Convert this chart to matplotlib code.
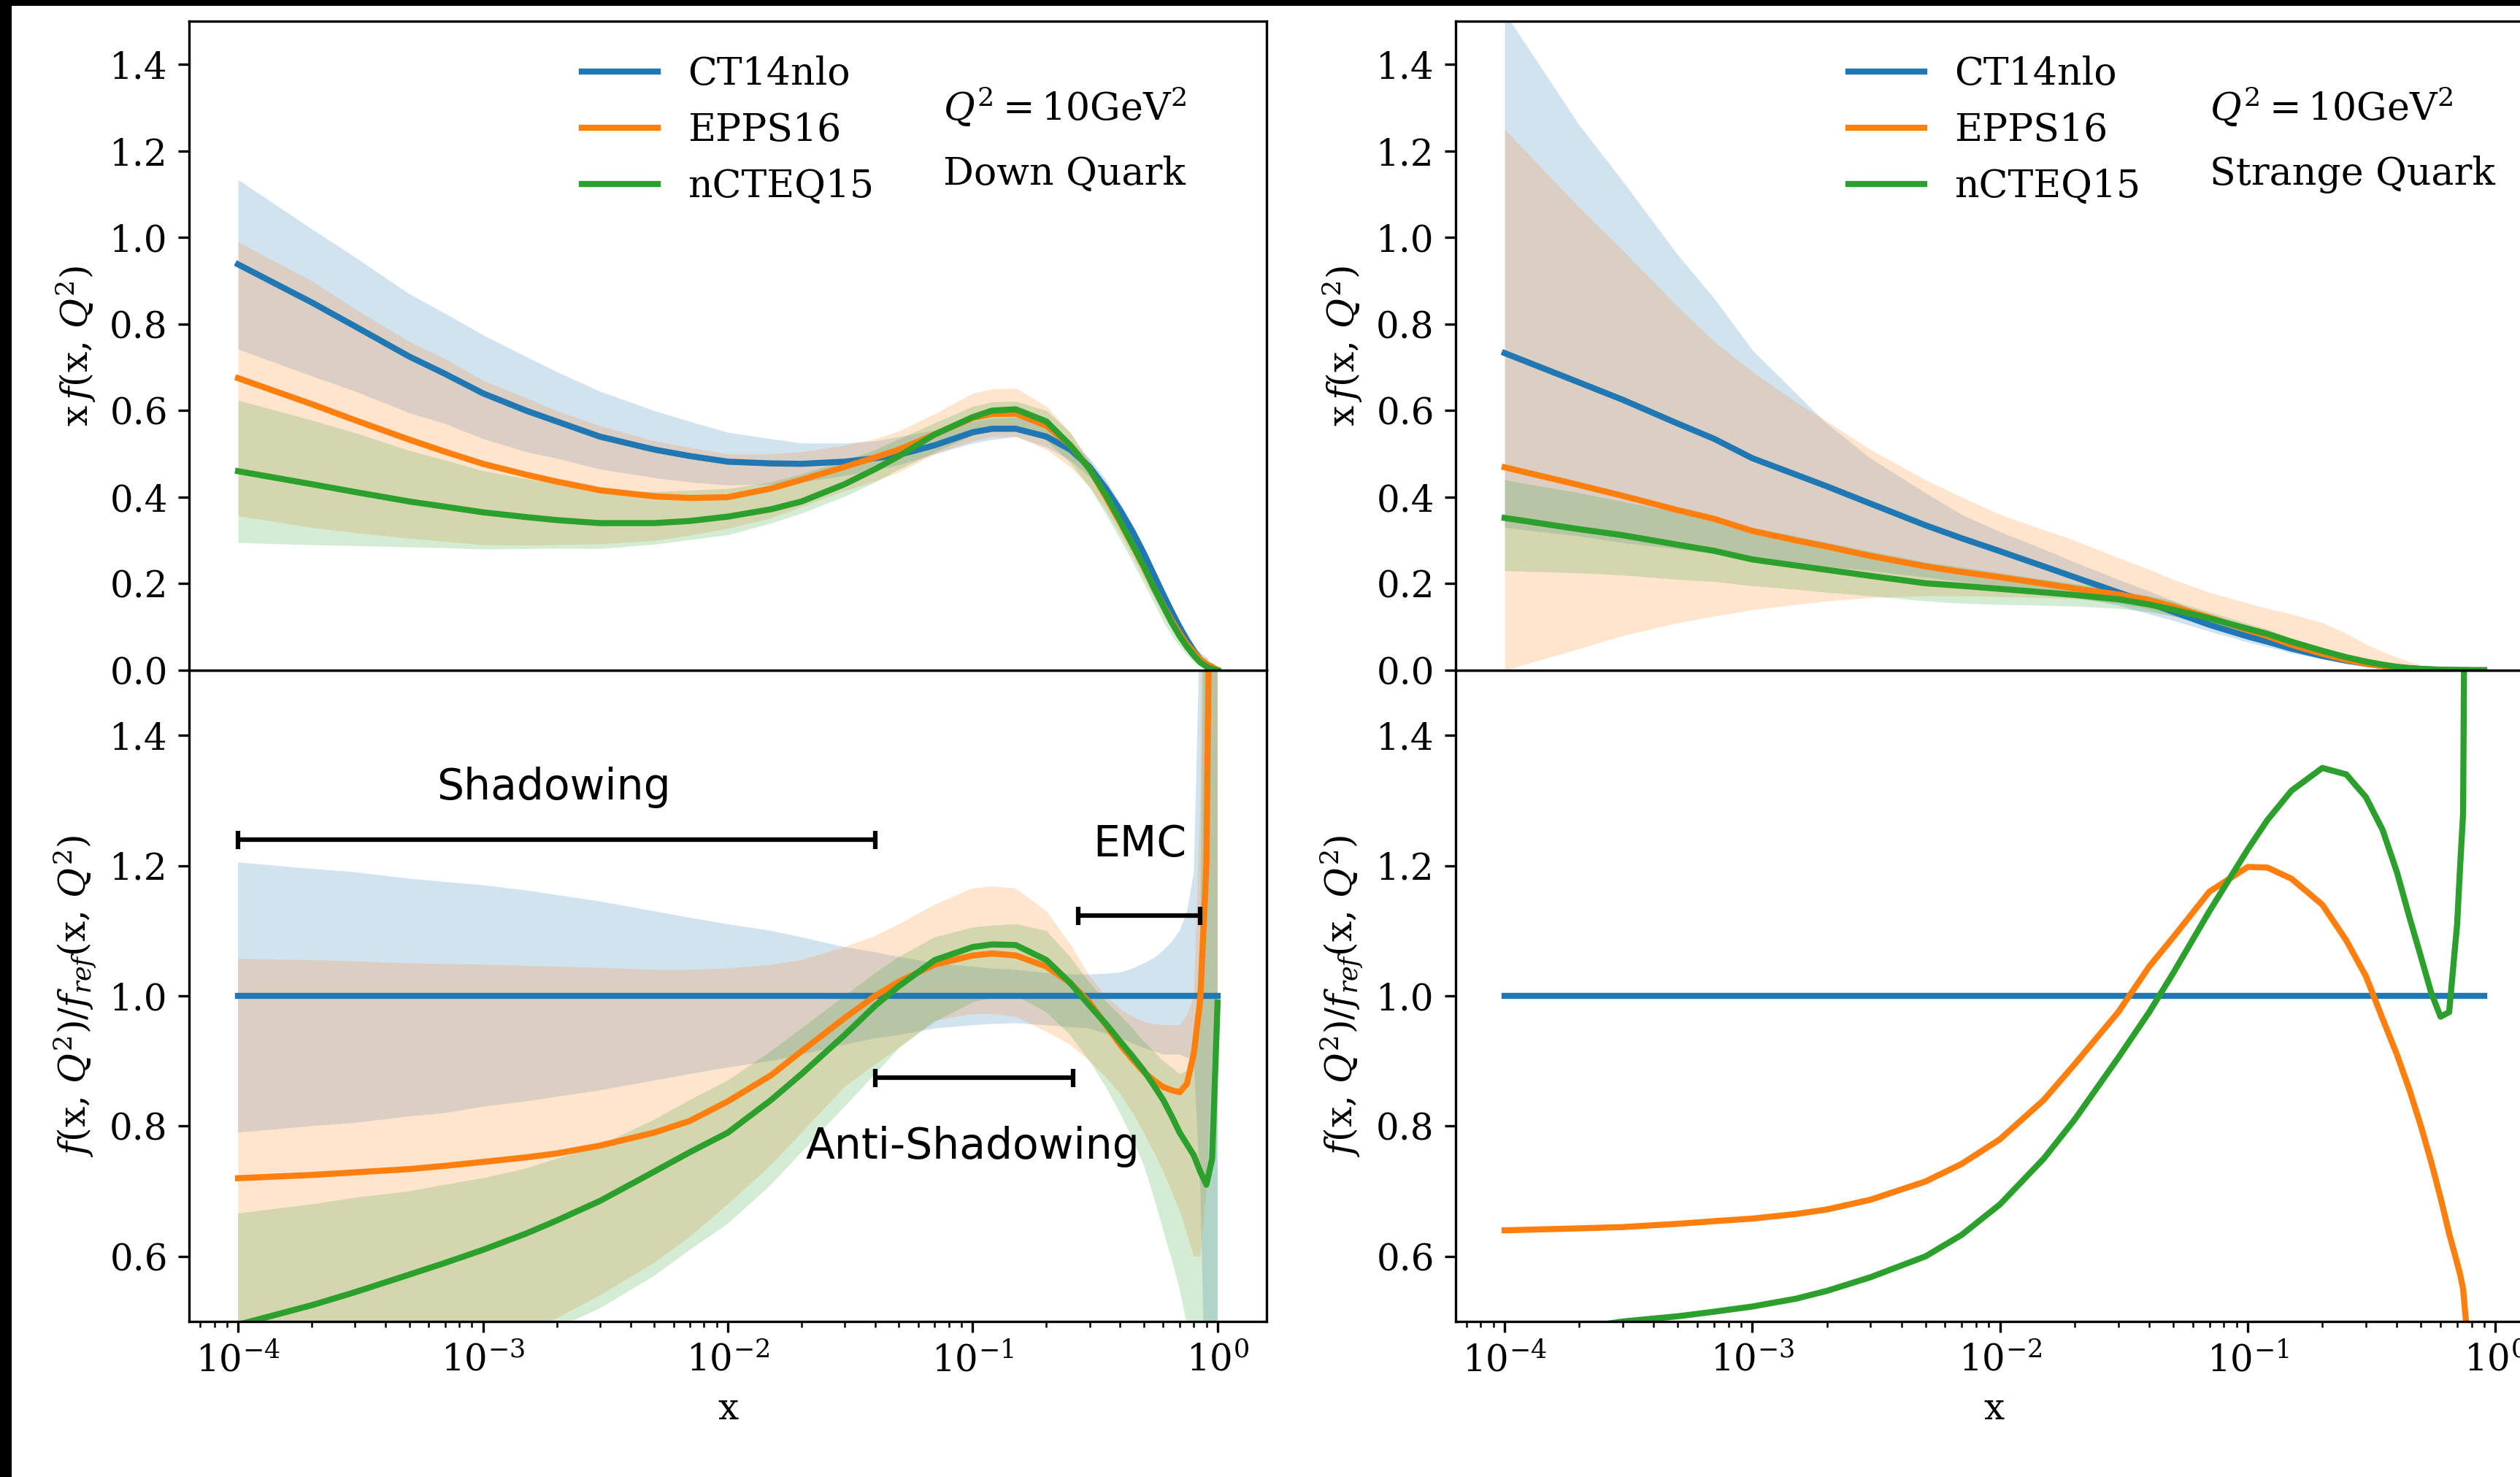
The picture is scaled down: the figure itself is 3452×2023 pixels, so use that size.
import matplotlib
matplotlib.use('Agg')
import matplotlib.pyplot as plt
from matplotlib.patches import Rectangle

# ---------------- data ----------------
labels = ['CT14nlo', 'EPPS16', 'nCTEQ15']

# down quark, x grid
x_down = [1e-4, 2e-4, 3e-4, 5e-4, 7e-4,
          1e-3, 1.5e-3, 2e-3, 3e-3, 5e-3, 7e-3,
          1e-2, 1.5e-2, 2e-2, 3e-2, 4e-2, 5e-2, 7e-2,
          0.1, 0.12, 0.15, 0.2, 0.25, 0.3, 0.35, 0.4, 0.45, 0.5, 0.55, 0.6, 0.65, 0.7, 0.75, 0.8, 0.85,
          0.9, 0.95, 1.0]

# x f(x, Q^2), down quark
ct14_d = [0.938, 0.85, 0.795, 0.725, 0.685,
          0.64, 0.60, 0.575, 0.54, 0.51, 0.495,
          0.482, 0.478, 0.477, 0.482, 0.49, 0.498, 0.52,
          0.55, 0.558, 0.558, 0.54, 0.51, 0.47, 0.42, 0.37, 0.32, 0.27, 0.22, 0.175, 0.135, 0.10, 0.07,
          0.045, 0.025, 0.012, 0.004, 0.0]
ct14_d_hi = [1.134, 1.02, 0.955, 0.87, 0.825,
             0.775, 0.725, 0.69, 0.645, 0.60, 0.575,
             0.55, 0.535, 0.525, 0.525, 0.53, 0.54, 0.555,
             0.575, 0.582, 0.585, 0.565, 0.53, 0.49, 0.44, 0.385, 0.335, 0.285, 0.235, 0.19, 0.148, 0.11,
             0.08, 0.052, 0.04, 0.03, 0.012, 0.0]
ct14_d_lo = [0.742, 0.68, 0.645, 0.595, 0.57,
             0.535, 0.505, 0.49, 0.465, 0.445, 0.435,
             0.428, 0.43, 0.435, 0.45, 0.462, 0.475, 0.50,
             0.525, 0.533, 0.54, 0.516, 0.485, 0.447, 0.397, 0.346, 0.296, 0.248, 0.2, 0.16, 0.123, 0.091,
             0.064, 0.04, 0.018, 0.004, 0.001, 0.0]
epps_d = [0.675, 0.615, 0.578, 0.533, 0.505,
          0.477, 0.452, 0.436, 0.416, 0.402, 0.398,
          0.40, 0.42, 0.44, 0.47, 0.492, 0.51, 0.545,
          0.583, 0.592, 0.593, 0.565, 0.52, 0.465, 0.40, 0.342, 0.288, 0.238, 0.19, 0.15, 0.115, 0.085,
          0.06, 0.041, 0.025, 0.014, 0.008, 0.0]
epps_d_hi = [0.99, 0.90, 0.835, 0.76, 0.72,
             0.67, 0.63, 0.60, 0.565, 0.53, 0.515,
             0.50, 0.50, 0.505, 0.52, 0.535, 0.553, 0.593,
             0.64, 0.65, 0.652, 0.61, 0.55, 0.485, 0.42, 0.363, 0.31, 0.26, 0.21, 0.167, 0.129, 0.096,
             0.068, 0.045, 0.032, 0.03, 0.012, 0.0]
epps_d_lo = [0.357, 0.33, 0.318, 0.305, 0.298,
             0.29, 0.289, 0.29, 0.292, 0.30, 0.312,
             0.328, 0.352, 0.378, 0.415, 0.438, 0.458, 0.50,
             0.53, 0.54, 0.54, 0.51, 0.47, 0.423, 0.37, 0.315, 0.262, 0.213, 0.168, 0.128, 0.095, 0.067,
             0.045, 0.027, 0.015, 0.008, 0.004, 0.0]
ncteq_d = [0.46, 0.43, 0.412, 0.39, 0.378,
           0.365, 0.354, 0.347, 0.34, 0.34, 0.345,
           0.355, 0.372, 0.39, 0.43, 0.465, 0.495, 0.545,
           0.585, 0.6, 0.603, 0.575, 0.52, 0.465, 0.405, 0.345, 0.29, 0.24, 0.19, 0.148, 0.11, 0.079,
           0.054, 0.034, 0.018, 0.0085, 0.003, 0.0]
ncteq_d_hi = [0.624, 0.578, 0.549, 0.508, 0.486,
              0.461, 0.443, 0.431, 0.416, 0.413, 0.416,
              0.42, 0.435, 0.454, 0.485, 0.51, 0.535, 0.572,
              0.61, 0.62, 0.622, 0.60, 0.55, 0.48, 0.42, 0.36, 0.305, 0.25, 0.2, 0.158, 0.12, 0.088,
              0.062, 0.04, 0.028, 0.024, 0.012, 0.0]
ncteq_d_lo = [0.295, 0.29, 0.288, 0.285, 0.283,
              0.28, 0.281, 0.282, 0.281, 0.291, 0.302,
              0.313, 0.34, 0.363, 0.402, 0.435, 0.465, 0.504,
              0.543, 0.555, 0.56, 0.531, 0.48, 0.423, 0.36, 0.303, 0.25, 0.2, 0.155, 0.112, 0.08, 0.055,
              0.035, 0.02, 0.01, 0.004, 0.001, 0.0]

# ratio to CT14nlo, down quark
ct14_rd = [1.0] * 38
ct14_rd_hi = [1.205, 1.195, 1.19, 1.18, 1.175,
              1.17, 1.162, 1.155, 1.145, 1.13, 1.12,
              1.11, 1.10, 1.09, 1.075, 1.067, 1.06, 1.05,
              1.045, 1.042, 1.04, 1.035, 1.033, 1.033, 1.034, 1.036, 1.042, 1.05, 1.058, 1.07, 1.083, 1.10,
              1.13, 1.19, 1.6, 2.5, 3.0, 3.0]
ct14_rd_lo = [0.79, 0.80, 0.805, 0.815, 0.82,
              0.83, 0.838, 0.845, 0.855, 0.87, 0.88,
              0.89, 0.90, 0.91, 0.925, 0.935, 0.94, 0.95,
              0.955, 0.957, 0.958, 0.955, 0.952, 0.95, 0.942, 0.935, 0.927, 0.92, 0.915, 0.91, 0.91, 0.91,
              0.905, 0.90, 0.7, 0.3, 0.2, 0.2]
epps_rd = [0.720, 0.725, 0.729, 0.734, 0.739,
           0.745, 0.752, 0.758, 0.770, 0.790, 0.808,
           0.838, 0.878, 0.915, 0.966, 1.0, 1.022, 1.048,
           1.062, 1.065, 1.062, 1.045, 1.02, 0.990, 0.955, 0.925, 0.902, 0.883, 0.870, 0.860, 0.855, 0.852,
           0.865, 0.912, 0.995, 1.2, 2.0, 3.0]
epps_rd_hi = [1.057, 1.055, 1.053, 1.05, 1.049,
              1.048, 1.046, 1.045, 1.043, 1.04, 1.04,
              1.042, 1.048, 1.055, 1.075, 1.092, 1.11, 1.14,
              1.165, 1.168, 1.165, 1.13, 1.08, 1.03, 1.0, 0.98, 0.968, 0.96, 0.957, 0.955, 0.955, 0.955,
              0.97, 1.0, 1.3, 2.5, 3.0, 3.0]
epps_rd_lo = [0.38, 0.39, 0.40, 0.42, 0.435,
              0.455, 0.482, 0.505, 0.54, 0.59, 0.63,
              0.68, 0.74, 0.79, 0.86, 0.895, 0.92, 0.962,
              0.972, 0.972, 0.968, 0.945, 0.925, 0.90, 0.875, 0.85, 0.82, 0.79, 0.76, 0.73, 0.70, 0.67,
              0.635, 0.60, 0.6, 0.7, 0.9, 1.0]
ncteq_rd = [0.495, 0.525, 0.545, 0.572, 0.59,
            0.61, 0.635, 0.655, 0.685, 0.73, 0.76,
            0.79, 0.84, 0.88, 0.94, 0.985, 1.015, 1.055,
            1.075, 1.079, 1.078, 1.055, 1.02, 0.985, 0.957, 0.93, 0.907, 0.885, 0.862, 0.84, 0.815, 0.79,
            0.772, 0.755, 0.73, 0.71, 0.75, 0.99]
ncteq_rd_hi = [0.666, 0.68, 0.69, 0.70, 0.71,
               0.72, 0.735, 0.75, 0.77, 0.81, 0.84,
               0.87, 0.915, 0.95, 1.0, 1.035, 1.06, 1.09,
               1.105, 1.108, 1.11, 1.10, 1.06, 1.02, 0.992, 0.97, 0.95, 0.93, 0.915, 0.90, 0.89, 0.88,
               0.885, 0.90, 1.1, 2.0, 3.0, 3.0]
ncteq_rd_lo = [0.33, 0.35, 0.37, 0.40, 0.42,
               0.44, 0.467, 0.49, 0.52, 0.57, 0.61,
               0.65, 0.71, 0.76, 0.83, 0.88, 0.92, 0.96,
               0.99, 0.997, 1.0, 0.975, 0.94, 0.90, 0.86, 0.82, 0.78, 0.74, 0.69, 0.64, 0.595, 0.55,
               0.495, 0.44, 0.40, 0.35, 0.30, 0.30]

# strange quark, x grid
x_str = [1e-4, 2e-4, 3e-4, 5e-4, 7e-4,
         1e-3, 1.5e-3, 2e-3, 3e-3, 5e-3, 7e-3,
         1e-2, 1.5e-2, 2e-2, 3e-2, 4e-2, 5e-2, 7e-2,
         0.1, 0.12, 0.15, 0.2, 0.25, 0.3, 0.35, 0.4, 0.45, 0.5, 0.55, 0.6, 0.65, 0.7, 0.72, 0.74, 0.76,
         0.8, 0.9]

ct14_s = [0.733, 0.665, 0.625, 0.57, 0.535,
          0.49, 0.452, 0.425, 0.385, 0.335, 0.305,
          0.275, 0.24, 0.215, 0.18, 0.155, 0.135, 0.105,
          0.078, 0.066, 0.05, 0.033, 0.022, 0.015, 0.01, 0.007, 0.0045, 0.003, 0.002, 0.0012, 0.0008,
          0.0005, 0.0004, 0.0003, 0.0002, 0.0001, 0.0]
ct14_s_hi = [1.52, 1.26, 1.13, 0.96, 0.86,
             0.74, 0.64, 0.57, 0.49, 0.41, 0.36,
             0.32, 0.28, 0.25, 0.21, 0.183, 0.16, 0.125,
             0.092, 0.078, 0.06, 0.04, 0.027, 0.018, 0.012, 0.008, 0.0055, 0.0035, 0.0023, 0.0015, 0.001,
             0.0006, 0.0005, 0.0004, 0.0003, 0.0002, 0.0]
ct14_s_lo = [0.33, 0.31, 0.295, 0.28, 0.27,
             0.26, 0.25, 0.24, 0.23, 0.215, 0.205,
             0.195, 0.18, 0.17, 0.15, 0.13, 0.115, 0.09,
             0.065, 0.054, 0.04, 0.026, 0.017, 0.011, 0.0075, 0.005, 0.0033, 0.002, 0.0013, 0.0008, 0.0005,
             0.0003, 0.0002, 0.0002, 0.0001, 0.0, 0.0]
epps_s = [0.469, 0.428, 0.403, 0.37, 0.35,
          0.322, 0.30, 0.286, 0.264, 0.24, 0.227,
          0.215, 0.20, 0.189, 0.175, 0.162, 0.147, 0.122,
          0.093, 0.079, 0.059, 0.038, 0.024, 0.015, 0.0097, 0.0064, 0.0038, 0.0024, 0.0015, 0.0008, 0.0005,
          0.0003, 0.0002, 0.00017, 0.0001, 0.0, 0.0]
epps_s_hi = [1.25, 1.07, 0.97, 0.84, 0.76,
             0.69, 0.62, 0.575, 0.51, 0.44, 0.40,
             0.36, 0.325, 0.30, 0.26, 0.233, 0.21, 0.18,
             0.155, 0.143, 0.13, 0.11, 0.085, 0.06, 0.043, 0.03, 0.02, 0.012, 0.007, 0.004, 0.002,
             0.001, 0.0007, 0.0005, 0.0003, 0.0, 0.0]
epps_s_lo = [0.0, 0.05, 0.08, 0.11, 0.125,
             0.14, 0.152, 0.16, 0.168, 0.172, 0.172,
             0.17, 0.168, 0.165, 0.155, 0.14, 0.125, 0.105,
             0.08, 0.066, 0.05, 0.032, 0.02, 0.012, 0.007, 0.004, 0.002, 0.001, 0.0007, 0.0005, 0.0003,
             0.0002, 0.0001, 0.0001, 0.0, 0.0, 0.0]
ncteq_s = [0.352, 0.326, 0.312, 0.29, 0.276,
           0.256, 0.242, 0.232, 0.218, 0.201, 0.195,
           0.188, 0.18, 0.174, 0.164, 0.152, 0.14, 0.12,
           0.096, 0.084, 0.066, 0.045, 0.03, 0.02, 0.013, 0.008, 0.005, 0.003, 0.002, 0.0012, 0.0008,
           0.0005, 0.0004, 0.0004, 0.0003, 0.0001, 0.0]
ncteq_s_hi = [0.44, 0.41, 0.39, 0.365, 0.35,
              0.33, 0.31, 0.295, 0.275, 0.25, 0.238,
              0.225, 0.21, 0.20, 0.185, 0.172, 0.16, 0.135,
              0.108, 0.095, 0.074, 0.05, 0.034, 0.023, 0.015, 0.01, 0.006, 0.004, 0.0025, 0.0015, 0.001,
              0.0006, 0.0005, 0.0005, 0.0004, 0.0002, 0.0]
ncteq_s_lo = [0.23, 0.225, 0.22, 0.21, 0.205,
              0.195, 0.187, 0.18, 0.172, 0.16, 0.155,
              0.152, 0.15, 0.148, 0.143, 0.135, 0.125, 0.105,
              0.085, 0.074, 0.058, 0.04, 0.026, 0.017, 0.011, 0.007, 0.0045, 0.0025, 0.0016, 0.001, 0.0006,
              0.0004, 0.0003, 0.0003, 0.0002, 0.0, 0.0]

# ratio to CT14nlo, strange quark (central values only)
ct14_rs = [1.0] * 37
epps_rs = [0.64, 0.643, 0.645, 0.65, 0.654,
           0.658, 0.665, 0.672, 0.687, 0.715, 0.742,
           0.78, 0.84, 0.895, 0.975, 1.045, 1.09, 1.16,
           1.198, 1.197, 1.18, 1.14, 1.085, 1.03, 0.965, 0.91, 0.855, 0.80, 0.745, 0.69, 0.635, 0.59,
           0.572, 0.55, 0.50, 0.45, 0.35]
ncteq_rs = [0.48, 0.49, 0.50, 0.508, 0.515,
            0.523, 0.535, 0.547, 0.568, 0.60, 0.633,
            0.68, 0.75, 0.81, 0.905, 0.975, 1.035, 1.13,
            1.225, 1.27, 1.315, 1.35, 1.34, 1.305, 1.255, 1.19, 1.12, 1.06, 1.005, 0.968, 0.975, 1.11,
            1.2, 1.28, 2.0, 3.0, 5.0]

# nuclear-effect regions: (x from, x to, y, label, label x, label y)
regions = [
    (1e-4, 0.04, 1.24, 'Shadowing', 1.94e-3, 1.32),
    (0.27, 0.85, 1.123, 'EMC', 0.48, 1.233),
    (0.04, 0.257, 0.874, 'Anti-Shadowing', 0.1, 0.768),
]

COLORS = ['#1f77b4', '#ff7f0e', '#2ca02c']


def draw(ax, x, curves, bands=None):
    if bands is not None:
        for (lo, hi), c in zip(bands, COLORS):
            ax.fill_between(x, lo, hi, color=c, alpha=0.2, lw=0)
    for y, c, lab in zip(curves, COLORS, labels):
        ax.plot(x, y, color=c, lw=2, label=lab)
    ax.set_xscale('log')


def main():
    plt.rcParams['font.family'] = 'serif'
    plt.rcParams['font.serif'] = ['DejaVu Serif']
    plt.rcParams['mathtext.fontset'] = 'dejavuserif'
    plt.rcParams['font.size'] = 12

    W, H = 3452, 2023
    fig = plt.figure(figsize=(W / 300, H / 300), dpi=300)

    width = 1476 / W
    top_rect = (1105 / H, 889 / H)
    bot_rect = (213 / H, 892 / H)

    panels = [
        (259 / W, x_down,
         [ct14_d, epps_d, ncteq_d],
         [(ct14_d_lo, ct14_d_hi), (epps_d_lo, epps_d_hi), (ncteq_d_lo, ncteq_d_hi)],
         [ct14_rd, epps_rd, ncteq_rd],
         [(ct14_rd_lo, ct14_rd_hi), (epps_rd_lo, epps_rd_hi), (ncteq_rd_lo, ncteq_rd_hi)],
         'Down Quark'),
        (1994 / W, x_str,
         [ct14_s, epps_s, ncteq_s],
         [(ct14_s_lo, ct14_s_hi), (epps_s_lo, epps_s_hi), (ncteq_s_lo, ncteq_s_hi)],
         [ct14_rs, epps_rs, ncteq_rs],
         None,
         'Strange Quark'),
    ]

    for i, (x0, x, top, top_bands, ratio, ratio_bands, name) in enumerate(panels):
        ax_b = fig.add_axes([x0, bot_rect[0], width, bot_rect[1]])
        ax_t = fig.add_axes([x0, top_rect[0], width, top_rect[1]], sharex=ax_b)

        draw(ax_t, x, top, top_bands)
        draw(ax_b, x, ratio, ratio_bands)

        ax_t.set_ylim(0, 1.5)
        ax_b.set_ylim(0.5, 1.5)
        ax_t.tick_params(axis='x', which='both', bottom=False, labelbottom=False)

        ax_t.set_ylabel(r'x$\,f$(x, $Q^2$)')
        ax_b.set_ylabel(r'$f$(x, $Q^2$)/$f_{ref}$(x, $Q^2$)')
        ax_b.set_xlabel('x')

        ax_t.legend(loc='upper center', frameon=False, fontsize=12.5,
                    labelspacing=0.5, borderpad=0.4)
        ax_t.text(0.7, 0.847, r'$Q^2 = 10\mathrm{GeV}^2$', transform=ax_t.transAxes,
                  fontsize=12.5)
        ax_t.text(0.7, 0.748, name, transform=ax_t.transAxes, fontsize=12.5)

        if i == 0:
            for x1, x2, y, txt, tx, ty in regions:
                xc = (x1 * x2) ** 0.5
                ax_b.errorbar([xc], [y], xerr=[[xc - x1], [x2 - xc]], fmt='none',
                              ecolor='k', elinewidth=1.5, capsize=3, capthick=1.5)
                ax_b.text(tx, ty, txt, ha='center', va='center',
                          family='DejaVu Sans', fontsize=14)

    # black frame left/top from the original screenshot
    fig.add_artist(Rectangle((0, 1 - 8 / H), 1, 8 / H, transform=fig.transFigure,
                             color='k', lw=0))
    fig.add_artist(Rectangle((0, 0), 16 / W, 1, transform=fig.transFigure,
                             color='k', lw=0))

    fig.savefig('out.png', dpi=300)


if __name__ == '__main__':
    main()
